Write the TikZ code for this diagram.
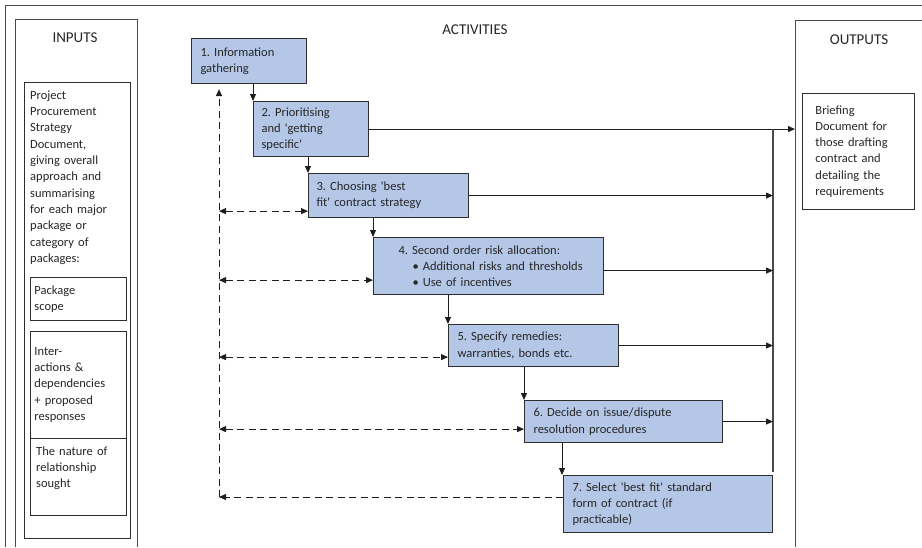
\documentclass[tikz,border=0pt]{standalone}
\usepackage{fontspec}
\setmainfont{Carlito}[Ligatures=TeXOff]
\usetikzlibrary{arrows.meta}
\frenchspacing

\definecolor{boxfill}{HTML}{B4C7E7}
\definecolor{boxline}{HTML}{2E2E2E}
\definecolor{framecol}{HTML}{4A4A4A}
\definecolor{linecol}{HTML}{1E1E1E}

\newcommand\actfont{\fontsize{12.5pt}{16.3pt}\selectfont}
\newcommand\headfont{\fontsize{15pt}{18pt}\selectfont}

\begin{document}
\begin{tikzpicture}[x=1pt,y=-1pt,
  frame/.style={draw=framecol,line width=0.9pt},
  actbox/.style={draw=boxline,fill=boxfill,line width=1.1pt,anchor=north west,
    inner xsep=9pt,inner ysep=0pt,align=left,font=\actfont,text=black!85},
  inbox/.style={draw=boxline,line width=0.9pt,anchor=north west,
    inner xsep=4pt,inner ysep=0pt,align=left,font=\actfont,text=black!85},
  plaintext/.style={anchor=north west,inner sep=0pt,align=left,font=\actfont,text=black!85},
  heading/.style={font=\headfont,text=black!85,inner sep=0pt},
  tip/.tip={Triangle[length=7pt,width=6pt]},
  flow/.style={draw=linecol,line width=1pt,-tip},
  bus/.style={draw=framecol,line width=1.1pt},
  feedback/.style={draw=linecol,line width=1pt,dash pattern=on 7pt off 4.5pt,-tip},
  twoway/.style={draw=linecol,line width=1pt,dash pattern=on 7pt off 4.5pt,tip-tip}
]
\useasboundingbox (0,0) rectangle (922,547);

% outer frame and the three columns
\draw[frame] (922,5) -- (5,5) -- (5,547);
\draw[frame] (15,547) -- (15,19) -- (137,19) -- (137,547);
\draw[frame] (795,547) -- (795,20) -- (922,20);
\coordinate (outL) at (795,20);

\node[heading] (hin)  at (75,38)  {INPUTS};
\node[heading] (hact) at (475,30) {ACTIVITIES};
\node[heading] (hout) at (859,40) {OUTPUTS};

% inputs column
\node[inbox,minimum width=106pt,minimum height=456pt] (ppsdbox) at (24,82) {};
\node[plaintext,text width=100pt] (ppsd) at (30,90.5)
  {Project\\Procurement\\Strategy\\Document,\\giving overall\\approach and\\summarising\\for each major\\package or\\category of\\packages:};
\node[inbox,minimum width=96pt,minimum height=43pt,text width=88pt] (pkg) at (30,277)
  {Package\\scope};
\node[inbox,minimum width=96pt,minimum height=107pt,text width=88pt] (inter) at (30,331)
  {Inter-\\actions \&\\dependencies\\+ proposed\\responses};
\node[inbox,minimum width=96pt,minimum height=77pt] (nat) at (30,438) {};
\node[plaintext,text width=88pt] (nattext) at ([xshift=6pt,yshift=-8.5pt]nat.north west)
  {The nature of\\relationship\\sought};

% outputs column
\node[inbox,inner xsep=13pt,minimum width=112pt,minimum height=116pt,text width=86pt] (brief) at (802,93)
  {Briefing\\Document for\\those drafting\\contract and\\detailing the\\requirements};

% activities
\node[actbox,minimum width=115pt,minimum height=45pt,text width=97pt] (b1) at (191,38)
  {1. Information\\gathering};
\node[actbox,inner xsep=8pt,minimum width=115pt,minimum height=55pt,text width=99pt] (b2) at (253,101)
  {2. Prioritising\\and 'getting\\specific'};
\node[actbox,inner xsep=8pt,minimum width=160pt,minimum height=44pt,text width=144pt] (b3) at (308,173)
  {3. Choosing 'best\\fit' contract strategy};
\node[actbox,minimum width=230pt,minimum height=57pt,text width=212pt] (b4) at (373,237)
  {\hspace*{16pt}4. Second order risk allocation:\\
   \hspace*{30pt}\textbullet\hspace{4pt}Additional risks and thresholds\\
   \hspace*{30pt}\textbullet\hspace{4pt}Use of incentives};
\node[actbox,minimum width=170pt,minimum height=42pt,text width=152pt] (b5) at (448,324)
  {5. Specify remedies:\\warranties, bonds etc.};
\node[actbox,minimum width=198pt,minimum height=42pt,text width=180pt] (b6) at (524,400)
  {6. Decide on issue/dispute\\resolution procedures};
\node[actbox,minimum width=209pt,minimum height=57pt,text width=191pt] (b7) at (563,475)
  {7. Select 'best fit' standard\\form of contract (if\\practicable)};

% sequence of activities
\draw[flow] (b1.south -| b2.north west) -- (b2.north west);
\draw[flow] (b2.south -| b3.north west) -- (b3.north west);
\draw[flow] (b3.south -| b4.north west) -- (b4.north west);
\draw[flow] (b4.south -| b5.north west) -- (b5.north west);
\draw[flow] (b5.south -| b6.north west) -- (b6.north west);
\draw[flow] ([xshift=-1pt]b6.south -| b7.north west) -- ([xshift=-1pt]b7.north west);

% collecting line towards the briefing document
\coordinate (busX) at (773,0);
\coordinate (busEnd) at (773,472);
\draw[flow] (b2.east) -- (b2.east -| outL);
\draw[bus] (b2.east -| busX) -- (busEnd);
\draw[flow] (b3.east) -- (b3.east -| busX);
\path ([yshift=-4.5pt]b4.east) coordinate (r4);
\draw[flow] (r4) -- (r4 -| busX);
\draw[flow] (b5.east) -- (b5.east -| busX);
\draw[flow] (b6.east) -- (b6.east -| busX);

% feedback to information gathering
\coordinate (fbX) at (219,0);
\path ([yshift=7pt]b3.south west)  coordinate (d3);
\path ([yshift=15pt]b4.south west) coordinate (d4);
\path ([yshift=10pt]b5.south west) coordinate (d5);
\path ([yshift=14pt]b6.south west) coordinate (d6);
\path ([yshift=-22pt]b7.north west) coordinate (d7);
\path ([yshift=-5pt]b1.south -| fbX) coordinate (fbTop);
\draw[feedback] (d7 -| fbX) -- (fbTop);
\draw[twoway] (d3 -| fbX) -- (d3);
\draw[twoway] (d4 -| fbX) -- (d4);
\draw[twoway] (d5 -| fbX) -- (d5);
\draw[twoway] (d6 -| fbX) -- (d6);
\draw[feedback] (d7) -- (d7 -| fbX);
\end{tikzpicture}
\end{document}
